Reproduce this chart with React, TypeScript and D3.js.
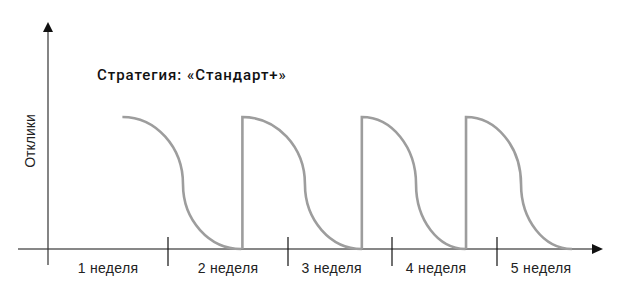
import React from "react";
import * as d3 from "d3";

const W = 625;
const H = 290;

// week boundaries (tick positions) in week units
const weekTicks = [1, 2, 3, 4];
const weekLabels = ["1 неделя", "2 неделя", "3 неделя", "4 неделя", "5 неделя"];
const weekLabelPos = [0.5, 1.5, 2.42, 3.42, 4.42];

// response waves (week units) and levels
const waveStart = [0.62, 1.62, 2.71, 3.705];
const waveMid = [1.125, 2.163, 3.229, 4.229];
const waveEnd = [1.61, 2.71, 3.70, 4.714];
const waveRise = [false, true, true, true];
const peakLevel = 100;
const midLevel = 49;

const title = "Стратегия: «Стандарт+»";
const yLabel = "Отклики";

export default function App() {
  const x = d3
    .scaleLinear()
    .domain([0, 1, 2, 3, 4, 5])
    .range([48, 168, 288, 392, 497, 602]);
  const y = d3.scaleLinear().domain([0, peakLevel]).range([249, 117]);

  const axisY = y(0);
  const font = "'Liberation Sans', Arial, sans-serif";
  const waveColor = "#9d9d9d";

  const wavePath = (i: number) => {
    const x0 = x(waveStart[i]);
    const xm = x(waveMid[i]);
    const x1 = x(waveEnd[i]);
    const yt = y(peakLevel);
    const ym = y(midLevel);
    const yb = y(0);
    let s = "";
    if (waveRise[i]) {
      s += `M${x0},${yb}L${x0},${yt}`;
    } else {
      s += `M${x0},${yt}`;
    }
    s += `A${xm - x0},${ym - yt} 0 0 1 ${xm},${ym}`;
    s += `A${x1 - xm},${yb - ym} 0 0 0 ${x1},${yb}`;
    return s;
  };

  return (
    <svg width={W} height={H} style={{ display: "block", position: "absolute", left: 0, top: 0, background: "#fff" }}>
      {/* x axis */}
      <line x1={18} x2={594} y1={axisY} y2={axisY} stroke="#111" strokeWidth={1.2} />
      <path d={`M${x(5) + 1},${axisY} L${x(5) - 10},${axisY - 5} L${x(5) - 10},${axisY + 5} Z`} fill="#111" />
      {/* y axis */}
      <line x1={x(0)} x2={x(0)} y1={31} y2={265} stroke="#333" strokeWidth={1.2} />
      <path d={`M${x(0)},${22} L${x(0) - 5},${32} L${x(0) + 5},${32} Z`} fill="#111" />
      {/* ticks */}
      {weekTicks.map((t) => (
        <line key={t} x1={x(t)} x2={x(t)} y1={237} y2={266} stroke="#111" strokeWidth={1.2} />
      ))}
      {/* week labels */}
      {weekLabels.map((l, i) => (
        <text key={l} x={x(weekLabelPos[i])} y={273} textAnchor="middle" fontFamily={font} fontSize={14} letterSpacing={0.3} fill="#222">
          {l}
        </text>
      ))}
      {/* waves */}
      {waveStart.map((_, i) => (
        <path key={i} d={wavePath(i)} fill="none" stroke={waveColor} strokeWidth={2.6} strokeLinejoin="miter" />
      ))}
      {/* title */}
      <text x={97} y={80} fontFamily="Roboto, 'Liberation Sans', sans-serif" fontSize={15} fontWeight={500} letterSpacing={0.95} fill="#111">
        {title}
      </text>
      {/* y label */}
      <text transform={`translate(35,141) rotate(-90)`} textAnchor="middle" fontFamily={font} fontSize={14} fill="#222">
        {yLabel}
      </text>
    </svg>
  );
}
